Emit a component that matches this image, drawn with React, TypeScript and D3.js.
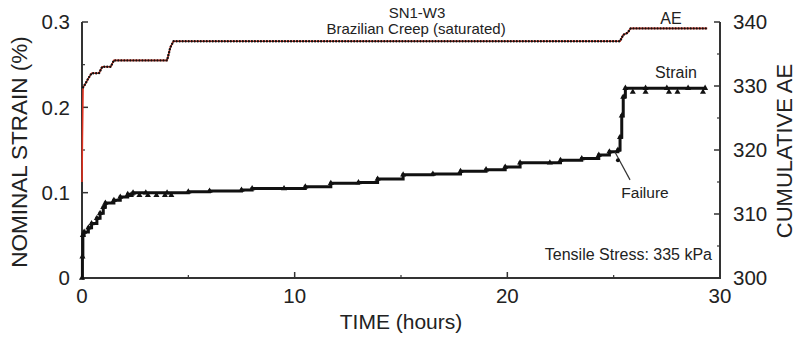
import React from "react";
import * as d3 from "d3";

// ---- data ----
const strainTime = [0, 0.02, 0.04, 0.1, 0.3, 0.45, 0.7, 0.85, 1.0, 1.1, 1.5, 1.8, 2.15, 2.4, 3.0, 4.0, 5.0, 6.0, 7.5, 8.0, 9.5, 10.5, 11.7, 13.0, 13.9, 15.1, 16.5, 17.8, 19.0, 19.9, 20.6, 22.0, 22.5, 23.5, 24.3, 24.8, 25.2, 25.3, 25.38, 25.45, 25.55, 26.5, 27.5, 28.5, 29.3];
const strainValue = [0, 0.025, 0.05, 0.054, 0.059, 0.064, 0.07, 0.076, 0.083, 0.088, 0.091, 0.095, 0.098, 0.1, 0.1, 0.1, 0.101, 0.102, 0.103, 0.105, 0.105, 0.107, 0.111, 0.112, 0.116, 0.121, 0.122, 0.125, 0.127, 0.13, 0.135, 0.135, 0.138, 0.14, 0.144, 0.148, 0.15, 0.165, 0.19, 0.212, 0.2225, 0.2225, 0.2225, 0.2225, 0.2225];
const strainScatterTime = [2.3, 2.7, 3.1, 3.5, 3.9, 4.2, 25.9, 26.5, 27.6, 28.0, 29.2];
const strainScatterValue = [0.097, 0.097, 0.097, 0.097, 0.097, 0.097, 0.218, 0.218, 0.218, 0.218, 0.218];

const aeTime = [0, 0.02, 0.05, 0.15, 0.3, 0.45, 0.8, 0.95, 1.35, 1.5, 4.0, 4.15, 4.3, 25.3, 25.45, 25.65, 25.8, 29.4];
const aeValue = [315, 322, 329.8, 330.3, 331.2, 332, 332, 333, 333, 334, 334, 336, 337, 337, 338, 338.3, 339, 339];

const xTicks = [0, 10, 20, 30];
const xMinorTicks = [5, 15, 25];
const leftTicks = [0, 0.1, 0.2, 0.3];
const leftTickLabels = ["0", "0.1", "0.2", "0.3"];
const leftMinorTicks = [0.05, 0.15, 0.25];
const rightTicks = [300, 310, 320, 330, 340];
const rightMinorTicks = [305, 315, 325, 335];

const FONT = "'Liberation Sans', Arial, Helvetica, sans-serif";
const AXIS = "#333";
const TEXT = "#222";

export default function App() {
  const x = d3.scaleLinear().domain([0, 30]).range([82, 720]);
  const yL = d3.scaleLinear().domain([0, 0.3]).range([278, 22]);
  const yR = d3.scaleLinear().domain([300, 340]).range([278, 22]);

  const strainPts = strainTime.map((t, i) => [t, strainValue[i]] as [number, number]);
  const aePts = aeTime.map((t, i) => [t, aeValue[i]] as [number, number]);

  const strainLine = d3
    .line<[number, number]>()
    .x((d) => x(d[0]))
    .y((d) => yL(d[1]))
    .curve(d3.curveStepAfter)(strainPts) as string;
  const aeGen = d3
    .line<[number, number]>()
    .x((d) => x(d[0]))
    .y((d) => yR(d[1]));
  const aeLine = aeGen(aePts) as string;
  const aeDotted = aeGen(aePts.slice(2)) as string;

  const tri = d3.symbol().type(d3.symbolTriangle).size(16)() as string;

  const failStart: [number, number] = [x(25.06), yL(0.1477)];
  const failEnd: [number, number] = [x(25.77), yL(0.115)];

  return (
    <svg
      width={796}
      height={339}
      style={{ position: "absolute", left: 0, top: 0, background: "#fff" }}
      fontFamily={FONT}
    >
      <rect x={0} y={0} width={796} height={339} fill="#fff" />
      {/* frame: left, bottom, right */}
      <path
        d={`M${x(0)},${yL(0.3)}V${yL(0)}H${x(30)}V${yR(340)}`}
        fill="none"
        stroke={AXIS}
        strokeWidth={2}
      />
      {/* left ticks */}
      {leftTicks.map((v, i) => (
        <g key={"lt" + i}>
          <line x1={x(0)} x2={x(0) + 6} y1={yL(v)} y2={yL(v)} stroke={AXIS} strokeWidth={1.5} />
          <text x={70} y={yL(v)} dy="0.36em" textAnchor="end" fontSize={20.5} fill={TEXT}>
            {leftTickLabels[i]}
          </text>
        </g>
      ))}
      {leftMinorTicks.map((v, i) => (
        <line key={"lm" + i} x1={x(0)} x2={x(0) + 3} y1={yL(v)} y2={yL(v)} stroke={AXIS} strokeWidth={1.2} />
      ))}
      {/* right ticks */}
      {rightTicks.map((v, i) => (
        <g key={"rt" + i}>
          <line x1={x(30)} x2={x(30) - 6} y1={yR(v)} y2={yR(v)} stroke={AXIS} strokeWidth={1.5} />
          <text x={733} y={yR(v)} dy="0.36em" textAnchor="start" fontSize={20.5} fill={TEXT}>
            {String(v)}
          </text>
        </g>
      ))}
      {rightMinorTicks.map((v, i) => (
        <line key={"rm" + i} x1={x(30)} x2={x(30) - 3} y1={yR(v)} y2={yR(v)} stroke={AXIS} strokeWidth={1.2} />
      ))}
      {/* bottom ticks */}
      {xTicks.map((v, i) => (
        <g key={"xt" + i}>
          <line x1={x(v)} x2={x(v)} y1={yL(0)} y2={yL(0) - 6} stroke={AXIS} strokeWidth={1.5} />
          <text x={x(v)} y={303} textAnchor="middle" fontSize={20.5} fill={TEXT}>
            {String(v)}
          </text>
        </g>
      ))}
      {xMinorTicks.map((v, i) => (
        <line key={"xm" + i} x1={x(v)} x2={x(v)} y1={yL(0)} y2={yL(0) - 3} stroke={AXIS} strokeWidth={1.2} />
      ))}

      {/* axis titles */}
      <text x={401} y={329} textAnchor="middle" fontSize={21} fill={TEXT}>
        TIME (hours)
      </text>
      <text
        transform="translate(27,152) rotate(-90)"
        textAnchor="middle"
        fontSize={22.5}
        fill={TEXT}
      >
        NOMINAL STRAIN (%)
      </text>
      <text
        transform="translate(792,151) rotate(-90)"
        textAnchor="middle"
        fontSize={22}
        fill={TEXT}
      >
        CUMULATIVE AE
      </text>

      {/* title */}
      <text x={417} y={18} textAnchor="middle" fontSize={15} fill={TEXT}>
        SN1-W3
      </text>
      <text x={416} y={34} textAnchor="middle" fontSize={15} fill={TEXT}>
        Brazilian Creep (saturated)
      </text>

      {/* AE curve: red line with black dot markers */}
      <path d={aeLine} fill="none" stroke="#e0301e" strokeWidth={1.6} />
      <path
        d={aeDotted}
        fill="none"
        stroke="#111"
        strokeWidth={2.4}
        strokeLinecap="round"
        strokeDasharray="0.01 3"
      />

      {/* strain curve */}
      <path d={strainLine} fill="none" stroke="#111" strokeWidth={3} />
      {strainPts.map((d, i) => (
        <path key={"sm" + i} d={tri} transform={`translate(${x(d[0])},${yL(d[1])})`} fill="#111" />
      ))}
      {strainScatterTime.map((t, i) => (
        <path
          key={"ss" + i}
          d={tri}
          transform={`translate(${x(t)},${yL(strainScatterValue[i])})`}
          fill="#111"
        />
      ))}

      {/* failure annotation */}
      <line
        x1={failStart[0]}
        y1={failStart[1]}
        x2={failEnd[0]}
        y2={failEnd[1]}
        stroke="#333"
        strokeWidth={1.2}
      />
      <circle cx={x(25.2)} cy={yL(0.138)} r={2} fill="#111" />
      <text x={645} y={198} textAnchor="middle" fontSize={15.5} fill={TEXT}>
        Failure
      </text>

      {/* series labels */}
      <text x={671} y={24} textAnchor="middle" fontSize={16} fill={TEXT}>
        AE
      </text>
      <text x={676} y={78} textAnchor="middle" fontSize={16} fill={TEXT}>
        Strain
      </text>
      <text x={712} y={260} textAnchor="end" fontSize={16} fill={TEXT}>
        Tensile Stress: 335 kPa
      </text>
    </svg>
  );
}
